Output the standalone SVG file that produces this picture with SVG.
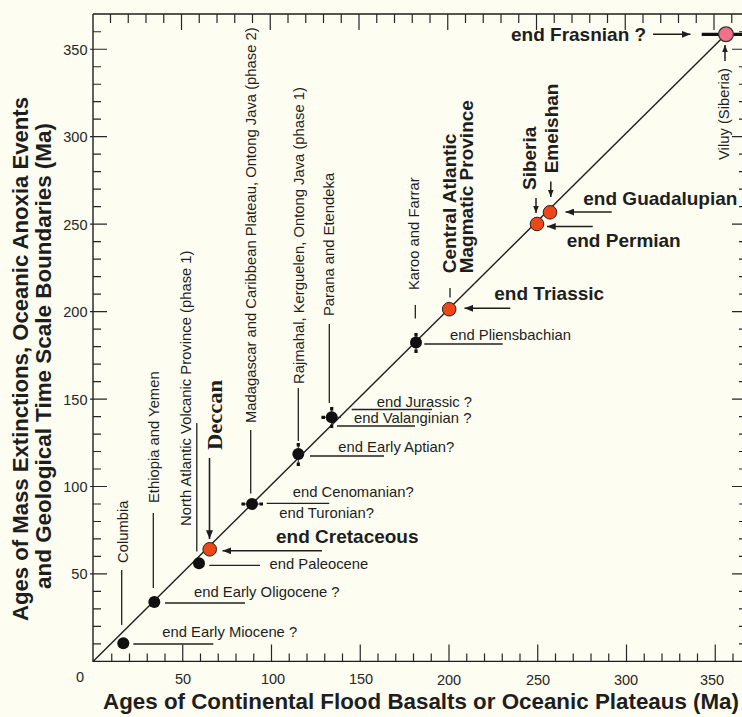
<svg xmlns="http://www.w3.org/2000/svg" width="742" height="717" viewBox="0 0 742 717">
<defs>
<style>
.ax{stroke:#1e1e1e;stroke-width:1.4;fill:none}
.tk{stroke:#262626;stroke-width:1.2;fill:none}
.ld{stroke:#222;stroke-width:1.3;fill:none}
.ar{stroke:#1e1e1e;stroke-width:1.6;fill:none;marker-end:url(#ah)}
.ars{stroke:#1e1e1e;stroke-width:1.5;fill:none;marker-end:url(#ahs)}
.eb{stroke:#333;stroke-width:1.1;fill:none}
.ebe{stroke:#111;stroke-width:3.2;fill:none}
.dot{fill:#101010}
.red{fill:#ef4617;stroke:#222;stroke-width:1}
.pink{fill:#f2718a;stroke:#333;stroke-width:1.3}
.s{font-family:"Liberation Sans",Arial,sans-serif;font-size:14.8px;fill:#1e1e1e}
.b{font-family:"Liberation Sans",Arial,sans-serif;font-size:19px;font-weight:bold;fill:#1e1e1e}
.n{font-family:"Liberation Sans",Arial,sans-serif;font-size:14.5px;fill:#262626}
.ti{font-family:"Liberation Sans",Arial,sans-serif;font-size:22px;font-weight:bold;fill:#1e1e1e}
.sf{font-family:"Liberation Serif","Times New Roman",serif;font-size:22px;font-weight:bold;fill:#1e1e1e}
</style>
<marker id="ah" viewBox="0 0 10 8" refX="10" refY="4" markerWidth="9" markerHeight="7" markerUnits="userSpaceOnUse" orient="auto">
<path d="M0,0 L10,4 L0,8 z" fill="#1e1e1e"/>
</marker>
<marker id="ahs" viewBox="0 0 10 8" refX="10" refY="4" markerWidth="7" markerHeight="6" markerUnits="userSpaceOnUse" orient="auto">
<path d="M0,0 L10,4 L0,8 z" fill="#1e1e1e"/>
</marker>
</defs>
<rect x="0" y="0" width="742" height="717" fill="#fdfdf2"/>

<g id="axes">
<path class="ax" d="M93,14 V661.4 H750 M93,14 H750 M748,14 V661.4"/>
<path class="tk" d="M111.75,661.4v-8M129.5,661.4v-8M147.25,661.4v-8M165,661.4v-8M200.5,661.4v-8M218.25,661.4v-8M236,661.4v-8M253.75,661.4v-8M289.25,661.4v-8M307,661.4v-8M324.75,661.4v-8M342.5,661.4v-8M378,661.4v-8M395.75,661.4v-8M413.5,661.4v-8M431.25,661.4v-8M466.75,661.4v-8M484.5,661.4v-8M502.25,661.4v-8M520,661.4v-8M555.5,661.4v-8M573.25,661.4v-8M591,661.4v-8M608.75,661.4v-8M644.25,661.4v-8M662,661.4v-8M679.75,661.4v-8M697.5,661.4v-8M733,661.4v-8
M182.75,661.4v-17M271.5,661.4v-17M360.25,661.4v-17M449,661.4v-17M537.75,661.4v-17M626.5,661.4v-17M715.25,661.4v-17"/>
<path class="tk" d="M110.5,14v9M128.25,14v9M146,14v9M163.75,14v9M199.25,14v9M217,14v9M234.75,14v9M252.5,14v9M288,14v9M305.75,14v9M323.5,14v9M341.25,14v9M376.75,14v9M394.5,14v9M412.25,14v9M430,14v9M465.5,14v9M483.25,14v9M501,14v9M518.75,14v9M554.25,14v9M572,14v9M589.75,14v9M607.5,14v9M643,14v9M660.75,14v9M678.5,14v9M696.25,14v9M731.75,14v9
M181.5,14v16M270.25,14v16M359,14v16M447.75,14v16M536.5,14v16M625.25,14v16M714,14v16"/>
<path class="tk" d="M93,643.91h8M93,626.42h8M93,608.93h8M93,591.44h8M93,556.46h8M93,538.97h8M93,521.48h8M93,503.99h8M93,469.01h8M93,451.52h8M93,434.03h8M93,416.54h8M93,381.56h8M93,364.07h8M93,346.58h8M93,329.09h8M93,294.11h8M93,276.62h8M93,259.13h8M93,241.64h8M93,206.66h8M93,189.17h8M93,171.68h8M93,154.19h8M93,119.21h8M93,101.72h8M93,84.23h8M93,66.74h8M93,31.76h8
M90,573.95h17M90,486.5h17M90,399.05h17M90,311.6h17M90,224.15h17M90,136.7h17M90,49.25h17"/>
<path class="tk" d="M748,643.91h-9M748,626.42h-9M748,608.93h-9M748,591.44h-9M748,556.46h-9M748,538.97h-9M748,521.48h-9M748,503.99h-9M748,469.01h-9M748,451.52h-9M748,434.03h-9M748,416.54h-9M748,381.56h-9M748,364.07h-9M748,346.58h-9M748,329.09h-9M748,294.11h-9M748,276.62h-9M748,259.13h-9M748,241.64h-9M748,206.66h-9M748,189.17h-9M748,171.68h-9M748,154.19h-9M748,119.21h-9M748,101.72h-9M748,84.23h-9M748,66.74h-9M748,31.76h-9
M748,573.95h-16M748,486.5h-16M748,399.05h-16M748,311.6h-16M748,224.15h-16M748,136.7h-16M748,49.25h-16"/>
<g class="n" text-anchor="middle">
<text x="80" y="682">0</text>
<text x="183" y="684">50</text>
<text x="273" y="684">100</text>
<text x="361" y="684">150</text>
<text x="449" y="685">200</text>
<text x="538" y="685">250</text>
<text x="626" y="685">300</text>
<text x="712" y="685">350</text>
</g>
<g class="n" text-anchor="end">
<text x="87.5" y="579">50</text>
<text x="87.5" y="492">100</text>
<text x="87.5" y="404.5">150</text>
<text x="87.5" y="317">200</text>
<text x="87.5" y="229.5">250</text>
<text x="87.5" y="142">300</text>
<text x="87.5" y="54.5">350</text>
</g>
<text class="ti" x="103" y="709" textLength="636" lengthAdjust="spacingAndGlyphs">Ages of Continental Flood Basalts or Oceanic Plateaus (Ma)</text>
<text class="ti" transform="translate(28,621) rotate(-90)" textLength="524" lengthAdjust="spacingAndGlyphs">Ages of Mass Extinctions, Oceanic Anoxia Events</text>
<text class="ti" transform="translate(51,589) rotate(-90)" textLength="466" lengthAdjust="spacingAndGlyphs">and Geological Time Scale Boundaries (Ma)</text>
</g>

<g id="connectors">
<path class="ax" d="M93,661.4 L726,34.3"/>
<path class="ld" d="M121.7,570V625M153.3,513V588M196.8,423V551.5M250.7,430V493.5M298.3,388V441M329.3,324V403M415.3,305V318.5M450,288V297.5"/>
<path class="ld" d="M133.3,644H213.3M165,603H245M209.3,565.3H260M266.7,503.3H329.3M310,456H384M351.7,409.5H432M337,426H415M424.3,344H502.7"/>
<line class="ar" x1="209.5" y1="458" x2="209.5" y2="539"/>
<line class="ar" x1="322" y1="550.8" x2="222.5" y2="550.8"/>
<line class="ar" x1="510.3" y1="308.3" x2="464.5" y2="308.3"/>
<line class="ar" x1="592.7" y1="226.5" x2="547" y2="226.5"/>
<line class="ar" x1="611.7" y1="212" x2="565.5" y2="212"/>
<line class="ar" x1="653" y1="34.3" x2="690.5" y2="34.3"/>
<line class="ars" x1="536" y1="198" x2="536" y2="213"/>
<line class="ars" x1="550.8" y1="181.5" x2="550.8" y2="197"/>
<line class="ars" x1="725" y1="61" x2="725" y2="45"/>
</g>

<g id="errorbars">
<path class="eb" d="M241.5,504H263M298.3,443V466M331.7,407V428M321.5,417.3H341M416,333V353"/>
<path class="ebe" d="M241.5,504h3.5M259.5,504h3.5M298.3,443v3.5M298.3,462.5v3.5M331.7,407v3.5M331.7,424.5v3.5M321.5,417.3h3.5M416,333v3.5M416,349.5v3.5M701.7,34.3H745"/>
</g>

<g id="columbia">
<circle class="dot" cx="123.3" cy="643.3" r="6"/>
<text class="s" transform="translate(128,563) rotate(-90)">Columbia</text>
<text class="s" x="162.3" y="637.3">end Early Miocene ?</text>
</g>
<g id="ethiopia">
<circle class="dot" cx="154.3" cy="602" r="6"/>
<text class="s" transform="translate(159,503) rotate(-90)">Ethiopia and Yemen</text>
<text class="s" x="194" y="597.3">end Early Oligocene ?</text>
</g>
<g id="navp">
<circle class="dot" cx="199" cy="563.3" r="6"/>
<text class="s" transform="translate(190.5,526) rotate(-90)">North Atlantic Volcanic Province (phase 1)</text>
<text class="s" x="269.5" y="569">end Paleocene</text>
</g>
<g id="deccan">
<circle class="red" cx="209.7" cy="549.3" r="6.8"/>
<text class="sf" transform="translate(221.5,450) rotate(-90)" textLength="70" lengthAdjust="spacingAndGlyphs">Deccan</text>
<text class="b" x="276" y="542.7">end Cretaceous</text>
</g>
<g id="madagascar">
<circle class="dot" cx="252" cy="504" r="6"/>
<text class="s" transform="translate(255.8,423) rotate(-90)">Madagascar and Caribbean Plateau, Ontong Java (phase 2)</text>
<text class="s" x="292.7" y="497.3">end Cenomanian?</text>
<text class="s" x="279.3" y="518.3">end Turonian?</text>
</g>
<g id="rajmahal">
<circle class="dot" cx="298.3" cy="454" r="6"/>
<text class="s" transform="translate(303.5,384) rotate(-90)">Rajmahal, Kerguelen, Ontong Java (phase 1)</text>
<text class="s" x="338.3" y="451.7">end Early Aptian?</text>
</g>
<g id="parana">
<circle class="dot" cx="331.7" cy="417.3" r="6"/>
<text class="s" transform="translate(333.8,316) rotate(-90)">Parana and Etendeka</text>
<text class="s" x="376.7" y="406.7">end Jurassic ?</text>
<text class="s" x="354" y="422.7">end Valanginian ?</text>
</g>
<g id="karoo">
<circle class="dot" cx="416" cy="342.5" r="6"/>
<text class="s" transform="translate(419,290) rotate(-90)">Karoo and Farrar</text>
<text class="s" x="450" y="340">end Pliensbachian</text>
</g>
<g id="camp">
<circle class="red" cx="449.2" cy="309.2" r="6.8"/>
<text class="b" transform="translate(456,273.3) rotate(-90)">Central Atlantic</text>
<text class="b" transform="translate(473,273.3) rotate(-90)">Magmatic Province</text>
<text class="b" x="494.3" y="300">end Triassic</text>
</g>
<g id="siberia">
<circle class="red" cx="537" cy="224" r="6.8"/>
<text class="b" transform="translate(535.5,190) rotate(-90)">Siberia</text>
<text class="b" x="566.7" y="246.7">end Permian</text>
</g>
<g id="emeishan">
<circle class="red" cx="550" cy="212.3" r="6.8"/>
<text class="b" transform="translate(557.5,173.3) rotate(-90)">Emeishan</text>
<text class="b" x="583.3" y="205">end Guadalupian</text>
</g>
<g id="viluy">
<circle class="pink" cx="726" cy="34.3" r="7.4"/>
<text class="s" transform="translate(729,160) rotate(-90)">Viluy (Siberia)</text>
<text class="b" x="511" y="40.7">end Frasnian ?</text>
</g>
</svg>
